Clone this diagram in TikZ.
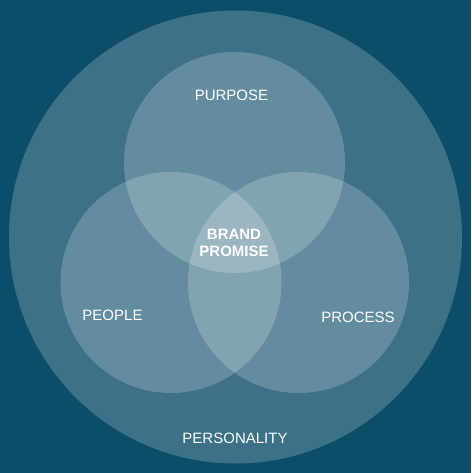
\documentclass[tikz,border=0pt]{standalone}
\usepackage{fontspec}
\setmainfont{Liberation Sans}
\usetikzlibrary{positioning}
\definecolor{bgteal}{RGB}{12,78,106}

\begin{document}
\begin{tikzpicture}[x=1pt, y=-1pt, ring/.style={fill=white, fill opacity=0.2}, lbl/.style={text=white, font=\fontsize{15}{17}\selectfont, align=center}]
	\fill[bgteal] (0,0) rectangle (471,473); 
	\useasboundingbox (0,0) rectangle (471,473); 
	\fill[ring] (235.5,237) circle [radius=226.5]; 
	\fill[ring] (234.5,162.5) circle [radius=110.5]; 
	\fill[ring] (171,282.5) circle [radius=110.5]; 
	\fill[ring] (298.5,282.5) circle [radius=110.5]; 
	\node[lbl] (purpose) at (231.5,95) {PURPOSE}; 
	\node[lbl] (people) at (112.5,315) {PEOPLE}; 
	\node[lbl] (process) at (358,317) {PROCESS}; 
	\node[lbl] (personality) at (235,438) {PERSONALITY}; 
	\node[lbl, font=\bfseries\fontsize{15}{17.5}\selectfont] (promise) at (234,243) {BRAND\\PROMISE}; 
\end{tikzpicture}
\end{document}
